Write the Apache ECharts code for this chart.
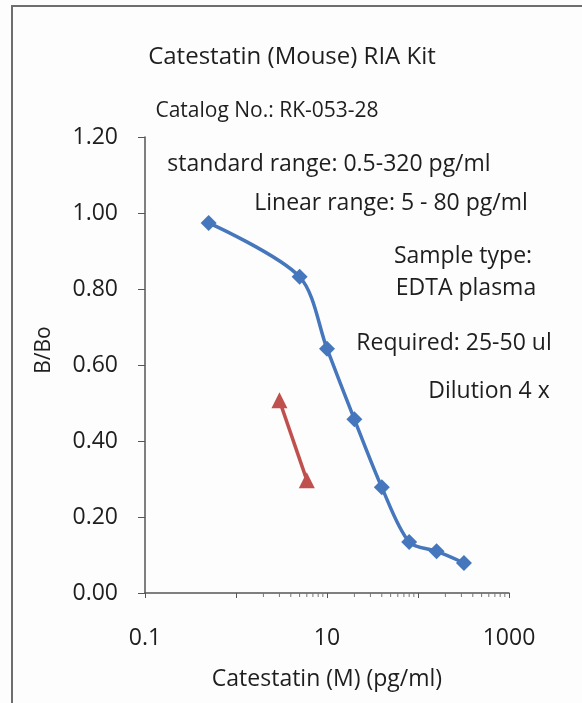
<!DOCTYPE html>
<html>
<head>
<meta charset="utf-8">
<script src="https://cdn.jsdelivr.net/npm/echarts@6/dist/echarts.min.js"></script>
<style>
  html, body { margin: 0; padding: 0; background: #fdfdfd; }
  #chart { width: 582px; height: 703px; }
</style>
</head>
<body>
<div id="chart"></div>
<script>
// 标准曲线 (x: pg/ml, y: B/Bo)
const stdConc = [0.5, 5, 10, 20, 40, 80, 160, 320];
const stdBBo = [0.974, 0.832, 0.643, 0.457, 0.278, 0.134, 0.110, 0.079];
// 红色样品点
const sampleConc = [3, 6];
const sampleBBo = [0.507, 0.297];
// 对数轴次刻度
const minorTickValues = [2, 3, 4, 5, 6, 7, 8, 9, 20, 30, 40, 50, 60, 70, 80, 90,
  200, 300, 400, 500, 600, 700, 800, 900];
const xLabelsShown = ["0.1", "10", "1000"];

const FONT = "Open Sans";
const TXT = "#1e1e1e";

let myChart = echarts.init(document.getElementById("chart"));

// 注释文字，按中心点放置
function note(text, cx, cy, size) {
  return {
    type: "text",
    x: cx,
    y: cy,
    style: {
      text: text,
      fill: TXT,
      font: (size || 23) + "px '" + FONT + "'",
      align: "center",
      verticalAlign: "middle",
    },
  };
}

let option = {
  animation: false,
  backgroundColor: "#fdfdfd",
  grid: { left: 145, right: 73, top: 137, bottom: 110 },
  xAxis: {
    type: "log",
    logBase: 10,
    min: 0.1,
    max: 1000,
    name: "Catestatin (M) (pg/ml)",
    nameLocation: "middle",
    nameGap: 75,
    nameTextStyle: { color: TXT, fontSize: 23, fontFamily: FONT },
    axisLine: { lineStyle: { color: "#555", width: 1.5 } },
    axisTick: { show: true, length: 5, lineStyle: { color: "#555" } },
    axisLabel: {
      color: TXT,
      fontSize: 23,
      fontFamily: FONT,
      margin: 34,
      formatter: function (v) {
        let s = String(+v.toPrecision(6));
        return xLabelsShown.indexOf(s) >= 0 ? s : "";
      },
    },
    splitLine: { show: false },
  },
  yAxis: {
    type: "value",
    min: 0,
    max: 1.2,
    interval: 0.2,
    name: "B/Bo",
    nameLocation: "middle",
    nameGap: 90,
    nameTextStyle: { color: TXT, fontSize: 21, fontFamily: FONT, padding: [0, 0, 0, 30] },
    axisLine: { show: true, lineStyle: { color: "#555", width: 1.5 } },
    axisTick: { show: true, length: 7, lineStyle: { color: "#555" } },
    axisLabel: {
      color: TXT,
      fontSize: 23,
      fontFamily: FONT,
      margin: 27,
      formatter: function (v) { return v.toFixed(2); },
    },
    splitLine: { show: false },
  },
  graphic: [
    {
      type: "rect",
      shape: { x: 12, y: 6, width: 800, height: 900 },
      style: { fill: "none", stroke: "#6e6e6e", lineWidth: 2 },
      silent: true,
    },
    {
      type: "text",
      x: 292,
      y: 57,
      style: {
        text: "Catestatin (Mouse) RIA Kit",
        fill: TXT,
        font: "24px '" + FONT + "'",
        align: "center",
        verticalAlign: "middle",
      },
    },
    note("Catalog No.: RK-053-28", 267, 111, 21),
    note("standard range: 0.5-320 pg/ml", 329, 164),
    note("Linear range: 5 - 80 pg/ml", 391, 203),
    note("Sample type:", 463, 256),
    note("EDTA plasma", 466, 288),
    note("Required: 25-50 ul", 454, 343),
    note("Dilution 4 x", 489, 391),
  ],
  series: [
    {
      name: "minor",
      type: "custom",
      silent: true,
      data: minorTickValues.map((v) => [v, 0]),
      renderItem: function (params, api) {
        let p = api.coord([api.value(0), 0]);
        return {
          type: "line",
          shape: { x1: p[0], y1: p[1], x2: p[0], y2: p[1] + 4 },
          style: { stroke: "#777", lineWidth: 1 },
        };
      },
      z: 1,
    },
    {
      name: "标准曲线",
      type: "line",
      smooth: 0.3,
      data: stdConc.map((x, i) => [x, stdBBo[i]]),
      symbol: "diamond",
      symbolSize: 16,
      lineStyle: { color: "#4677bd", width: 3.5 },
      itemStyle: { color: "#4677bd" },
      z: 3,
    },
    {
      name: "样品",
      type: "line",
      data: sampleConc.map((x, i) => [x, sampleBBo[i]]),
      symbol: "triangle",
      symbolSize: 16,
      lineStyle: { color: "#c0504d", width: 3.5 },
      itemStyle: { color: "#c0504d" },
      z: 3,
    },
  ],
};

myChart.setOption(option);
</script>
</body>
</html>
